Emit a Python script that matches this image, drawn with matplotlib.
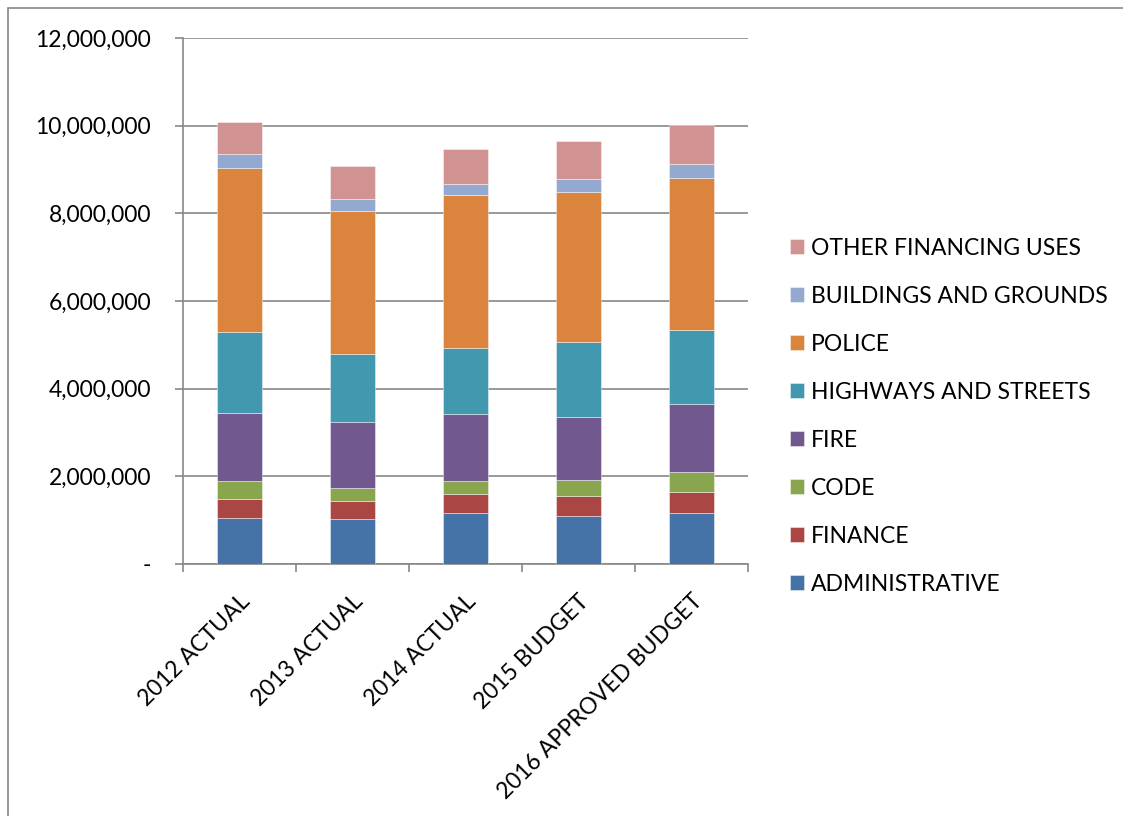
import numpy as np
import matplotlib.pyplot as plt
from matplotlib.patches import Rectangle
from matplotlib.ticker import FuncFormatter

plt.rcParams['font.family'] = ['Lato', 'DejaVu Sans']

# categories and series
years = ['2012 ACTUAL', '2013 ACTUAL', '2014 ACTUAL', '2015 BUDGET', '2016 APPROVED BUDGET']
departments = ['ADMINISTRATIVE', 'FINANCE', 'CODE', 'FIRE', 'HIGHWAYS AND STREETS',
               'POLICE', 'BUILDINGS AND GROUNDS', 'OTHER FINANCING USES']

administrative = [1052000, 1016000, 1166000, 1098000, 1166000]
finance = [441000, 423000, 425000, 454000, 477000]
code = [400000, 288000, 295000, 364000, 464000]
fire = [1555000, 1516000, 1546000, 1441000, 1545000]
highways = [1847000, 1546000, 1493000, 1704000, 1696000]
police = [3728000, 3263000, 3491000, 3423000, 3463000]
buildings = [334000, 282000, 259000, 289000, 319000]
other_uses = [718000, 750000, 786000, 879000, 886000]

series = [administrative, finance, code, fire, highways, police, buildings, other_uses]
colors = ['#4572A7', '#AA4643', '#89A54E', '#71588F', '#4198AF',
          '#DB843D', '#93A9CF', '#D19392']

grey = '#878787'
fs = 16.5

fig = plt.figure(figsize=(11.23, 8.16), dpi=100)
ax = fig.add_axes([183 / 1123, 1 - 564 / 816, (748 - 183) / 1123, (564 - 38) / 816])

x = np.arange(len(years))
bottom = np.zeros(len(years))
handles = []
for vals, col, name in zip(series, colors, departments):
    b = ax.bar(x, vals, 0.4, bottom=bottom, color=col, edgecolor=(1, 1, 1, 0.5),
               linewidth=0.6, label=name, zorder=3)
    handles.append(b)
    bottom += np.array(vals)

ax.set_xlim(-0.5, len(years) - 0.5)
ax.set_ylim(0, 12000000)
ax.set_yticks(np.arange(0, 12000001, 2000000))
ax.yaxis.set_major_formatter(FuncFormatter(lambda v, p: '-' if v == 0 else f'{v:,.0f}'))
ax.grid(axis='y', color=grey, linewidth=1.2, zorder=0)

ax.set_xticks(x)
ax.set_xticklabels(years, rotation=45, ha='right', rotation_mode='anchor')
ax.set_xticks(np.arange(-0.5, len(years)), minor=True)
ax.tick_params(axis='x', which='major', length=0, pad=19, labelsize=fs)
ax.tick_params(axis='x', which='minor', length=6, width=1.2, color=grey, direction='out')
ax.tick_params(axis='y', length=6, width=1.2, color=grey, pad=17, labelsize=fs)

for s in ['top', 'right']:
    ax.spines[s].set_visible(False)
for s in ['left', 'bottom']:
    ax.spines[s].set_color(grey)
    ax.spines[s].set_linewidth(1.2)

fig.legend(handles[::-1], departments[::-1], loc='upper left',
           bbox_to_anchor=(769 / 1123, 1 - 217 / 816), frameon=False,
           fontsize=fs, handlelength=0.62, handleheight=0.62,
           handletextpad=0.3, labelspacing=1.18)

# outer chart border
fig.add_artist(Rectangle((8 / 1123, -0.1), 1.2, 1 - 8 / 816 + 0.1, transform=fig.transFigure,
                         fill=False, edgecolor=grey, linewidth=1.2))

fig.savefig('out.png', dpi=100)
